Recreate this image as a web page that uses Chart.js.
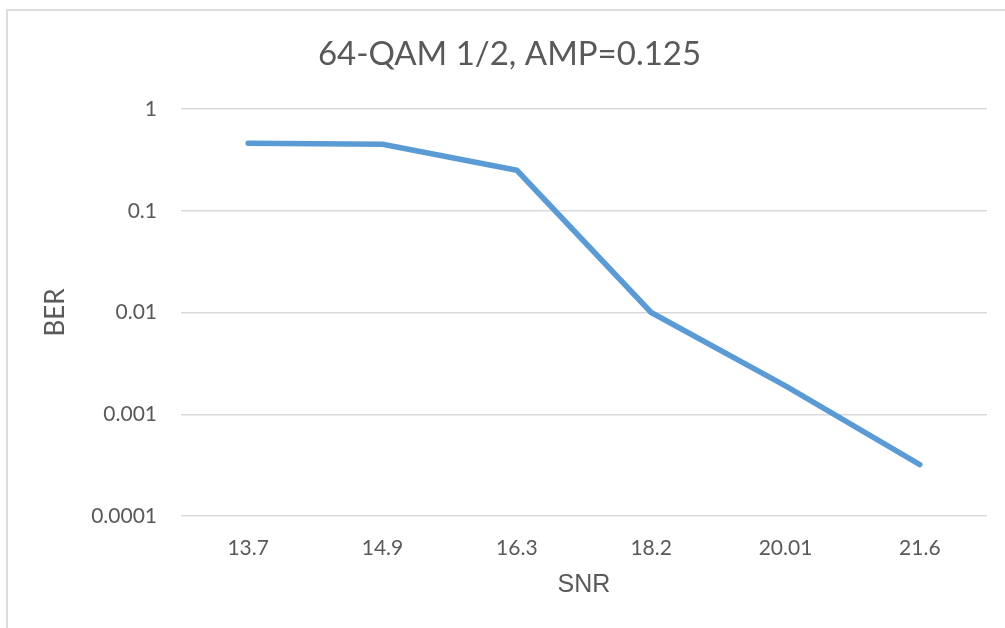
<!DOCTYPE html>
<html>
<head>
<meta charset="utf-8">
<script src="https://cdn.jsdelivr.net/npm/chart.js@4/dist/chart.umd.min.js"></script>
<style>
  html, body { margin: 0; padding: 0; background: #fff; overflow: hidden; }
  .frame { position: absolute; left: 6px; top: 9px; width: 1100px; height: 700px; border: 2px solid #dcdcdc; }
  #ber-chart { position: absolute; left: 0; top: 0; }
</style>
</head>
<body>
<div class="frame"></div>
<canvas id="ber-chart" width="1005" height="628"></canvas>
<script>
'use strict';

// ── Data ──────────────────────────────────────────────────────
const snrLabels = ['13.7', '14.9', '16.3', '18.2', '20.01', '21.6'];
const berValues = [0.46, 0.45, 0.25, 0.01, 0.0019, 0.00032];
const berTicks  = [1, 0.1, 0.01, 0.001, 0.0001];
const berTickLabels = ['1', '0.1', '0.01', '0.001', '0.0001'];

const TEXT = '#595959';
const GRID = '#d9d9d9';
const FONT = "Lato, 'Open Sans', sans-serif";
const FONT_ARIAL = "'Liberation Sans', Arial, sans-serif";

// ── Chart ─────────────────────────────────────────────────────
new Chart(document.getElementById('ber-chart'), {
  type: 'line',
  data: {
    labels: snrLabels,
    datasets: [{
      data: berValues,
      borderColor: '#5b9bd5',
      borderWidth: 5.5,
      borderCapStyle: 'round',
      borderJoinStyle: 'round',
      pointRadius: 0,
      tension: 0,
      fill: false
    }]
  },
  options: {
    responsive: false,
    animation: false,
    layout: { padding: { left: 32, right: 18, top: 0, bottom: 0 } },
    plugins: {
      legend: { display: false },
      tooltip: { enabled: false },
      title: {
        display: true,
        text: '64-QAM 1/2, AMP=0.125',
        color: TEXT,
        font: { family: FONT, size: 33, weight: 'normal' },
        padding: { top: 34.7, bottom: 34.7 }
      }
    },
    scales: {
      x: {
        type: 'category',
        offset: true,
        grid: { display: false },
        border: { display: false },
        ticks: { color: TEXT, font: { family: FONT, size: 21 }, padding: 12, maxRotation: 0 },
        title: {
          display: true,
          text: 'SNR',
          color: TEXT,
          font: { family: FONT_ARIAL, size: 25 },
          padding: { top: 0, bottom: 28 }
        },
        afterFit: scale => { scale.height = 112; }
      },
      y: {
        type: 'logarithmic',
        min: 0.0001,
        max: 1,
        grid: { color: GRID, lineWidth: 1.5, drawTicks: false },
        border: { display: false },
        afterBuildTicks: scale => { scale.ticks = berTicks.map(v => ({ value: v })); },
        ticks: {
          color: TEXT,
          font: { family: FONT, size: 21 },
          padding: 24,
          callback: (v, i) => berTickLabels[i]
        },
        title: {
          display: true,
          text: 'BER',
          color: TEXT,
          font: { family: FONT, size: 26 },
          padding: { top: 8, bottom: 0 }
        },
        afterFit: scale => { scale.width = 149; }
      }
    }
  }
});
</script>
</body>
</html>
